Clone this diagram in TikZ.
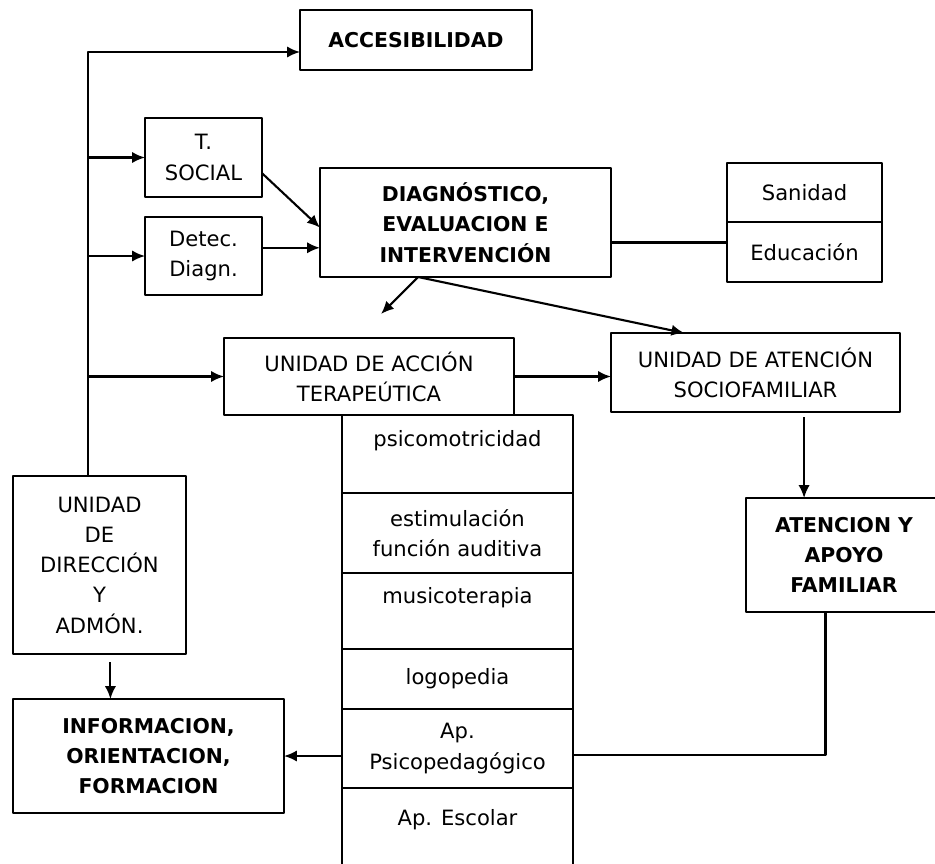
\documentclass[tikz,border=0pt]{standalone}
\usepackage{fontspec}
\setmainfont{DejaVu Sans}
\usetikzlibrary{arrows.meta}
\newdimen\pxu \pxu=0.025cm
\tikzset{
  caja/.style={draw, inner sep=0pt, outer sep=0pt, align=center,
    font=\fontsize{15}{21.5}\selectfont},
  cajanegrita/.style={caja, font=\fontsize{14.5}{21.5}\selectfont\bfseries},
  flecha/.style={-{Latex[length=3.2mm,width=2.8mm]}},
}
\begin{document}
\begin{tikzpicture}[x=0.025cm, y=-0.025cm, line width=1.5pt, line join=round]
  \useasboundingbox (0,0) rectangle (935,863);
  % las cajas de arriba
  \node[cajanegrita, minimum width=232\pxu, minimum height=60\pxu] (acc) at (416,40) {ACCESIBILIDAD};
  \node[caja, minimum width=117\pxu, minimum height=79\pxu] (tsoc) at (203.5,157.5) {T.\\SOCIAL};
  \node[caja, minimum width=117\pxu, minimum height=78\pxu] (detec) at (203.5,256) {Detec.\\Diagn.};
  \node[cajanegrita, minimum width=291\pxu, minimum height=109\pxu] (diag) at (465.5,222.5)
    {DIAGNÓSTICO,\\EVALUACION E\\INTERVENCIÓN};
  \node[caja, minimum width=155\pxu, minimum height=59\pxu] (san) at (804.5,192.5) {Sanidad};
  \node[caja, minimum width=155\pxu, minimum height=60\pxu] (edu) at (804.5,252) {Educación};
  % las unidades
  \node[caja, minimum width=290\pxu, minimum height=77\pxu] (uat) at (369,376.5) {UNIDAD DE ACCIÓN\\TERAPEÚTICA};
  \node[caja, minimum width=289\pxu, minimum height=79\pxu] (socio) at (755.5,372.5) {UNIDAD DE ATENCIÓN\\SOCIOFAMILIAR};
  \node[cajanegrita, minimum width=196\pxu, minimum height=114\pxu] (aten) at (844,555) {ATENCION Y\\APOYO\\FAMILIAR};
  \node[caja, minimum width=173\pxu, minimum height=178\pxu] (dir) at (99.5,565) {UNIDAD\\DE\\DIRECCIÓN\\Y\\ADMÓN.};
  \node[cajanegrita, minimum width=271\pxu, minimum height=114\pxu] (info) at (148.5,756)
    {INFORMACION,\\ORIENTACION,\\FORMACION};
  % la columna de terapias
  \node[caja, minimum width=231\pxu, minimum height=78\pxu] (psicom) at (457.5,454) {psicomotricidad\\\mbox{}};
  \node[caja, minimum width=231\pxu, minimum height=80\pxu] (estim) at (457.5,533) {estimulación\\función auditiva};
  \node[caja, minimum width=231\pxu, minimum height=76\pxu] (musico) at (457.5,611) {musicoterapia\\\mbox{}};
  \node[caja, minimum width=231\pxu, minimum height=60\pxu] (logo) at (457.5,679) {logopedia};
  \node[caja, minimum width=231\pxu, minimum height=79\pxu] (psico) at (457.5,748.5) {Ap.\\Psicopedagógico};
  \node[caja, minimum width=231\pxu, minimum height=90\pxu] (escolar) at (457.5,833) {Ap. Escolar\\\mbox{}};
  % el tronco de la izquierda
  \coordinate (tronco) at (88,52);
  \coordinate (puntauat) at (381,314);
  \draw[flecha] (tronco |- dir.north) -- (tronco) -- (tronco -| acc.west);
  \foreach \n in {tsoc,detec,uat} \draw[flecha] (tronco |- \n.west) -- (\n.west);
  % las flechas del centro
  \draw[flecha] (tsoc.-15) -- (diag.182);
  \draw[flecha] (detec.8) -- (detec.8 -| diag.west);
  \draw (diag.east |- edu.173) -- (edu.173);
  \draw[flecha] (diag.229) -- (puntauat);
  \draw[flecha] (diag.229) -- (socio.151);
  \draw[flecha] (uat.east) -- (uat.east -| socio.west);
  \draw[flecha, shorten <=5\pxu] (aten.125 |- socio.south) -- (aten.125);
  \draw (aten.252) |- (psico.-3);
  \draw[flecha] (info.east -| psico.west) -- (info.east);
  \draw[flecha, shorten <=8\pxu] (dir.-83) -- (dir.-83 |- info.north);
\end{tikzpicture}
\end{document}
